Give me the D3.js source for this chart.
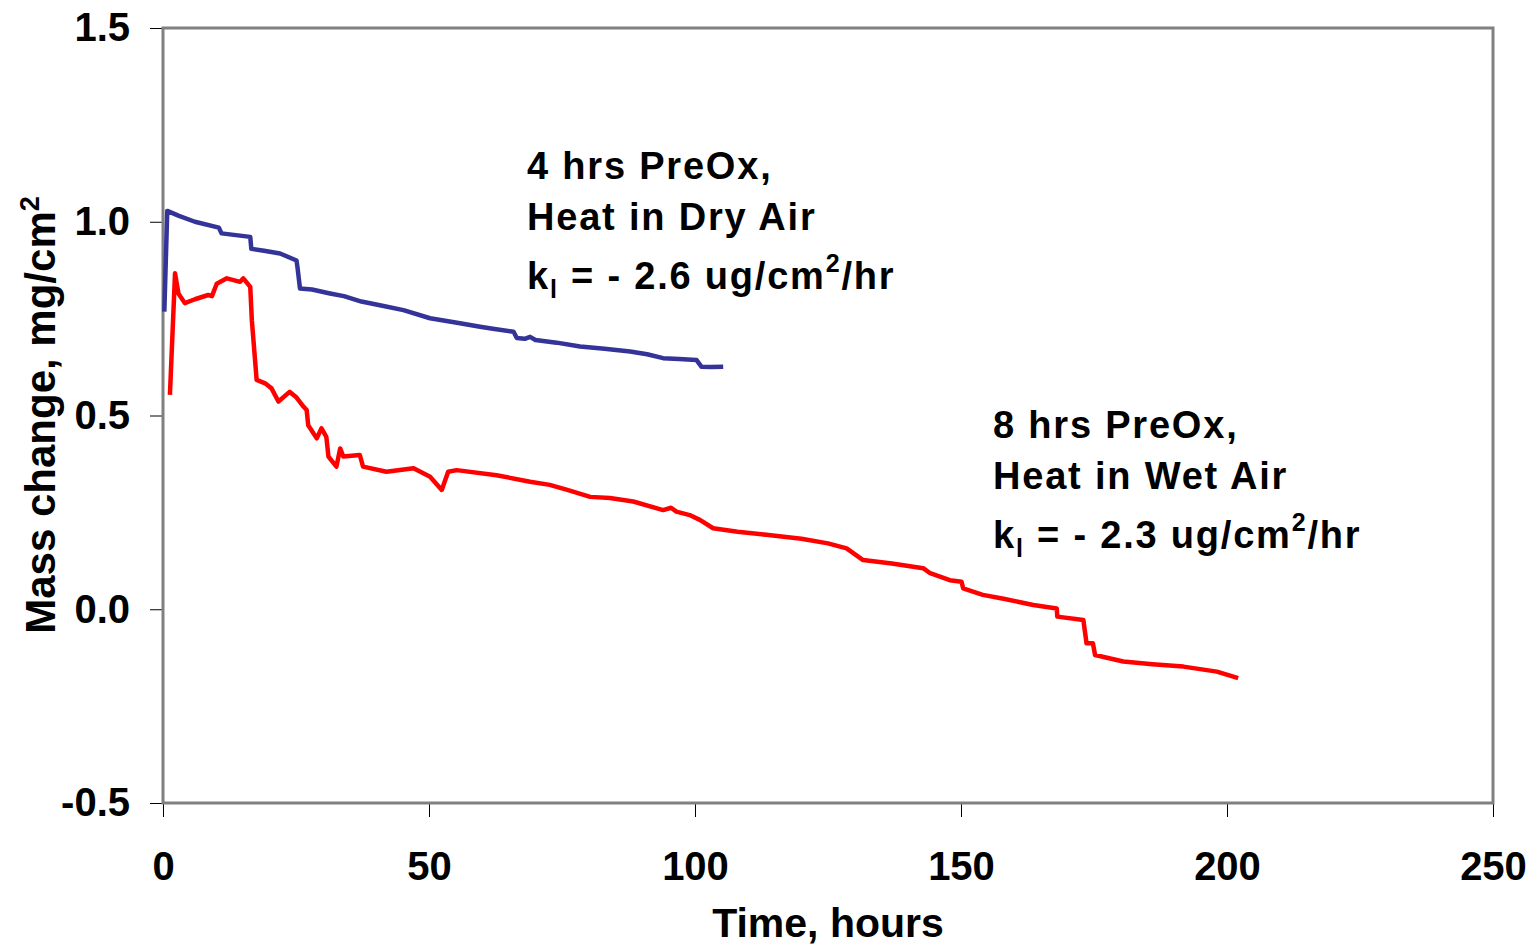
<html>
<head>
  <meta charset="utf-8">
  <title></title>
</head>
<body style="margin:0">
<div id='graph-container'></div>
</body>
<script src="https://d3js.org/d3.v7.min.js"></script>
<script type="text/javascript">

// 4 hrs PreOx, heated in dry air
var dryHours = [0.25, 0.8, 3, 6, 10.5, 11, 16.4, 16.6, 19, 22, 25.1, 25.3, 25.75, 28, 31.4, 34, 37.3, 41, 45.2, 50.2, 55, 59.6, 62, 65.9, 66.5, 68, 69, 70, 74, 78.4, 83, 87.8, 91, 94, 97, 100.3, 101.2, 103, 105.3]
var dryMass  = [0.768, 1.028, 1.015, 1.000, 0.985, 0.970, 0.961, 0.930, 0.925, 0.918, 0.900, 0.880, 0.828, 0.825, 0.815, 0.808, 0.794, 0.784, 0.772, 0.751, 0.740, 0.729, 0.724, 0.716, 0.700, 0.698, 0.703, 0.695, 0.688, 0.678, 0.672, 0.665, 0.658, 0.648, 0.646, 0.643, 0.626, 0.625, 0.626]

// 8 hrs PreOx, heated in wet air
var wetHours = [1.3, 2.26, 2.9, 4.1, 6.0, 8.5, 9.2, 10.1, 12, 14.5, 15.1, 16.4, 16.7, 17.6, 19.2, 20.4, 21.7, 23.8, 25, 26.4, 27.0, 27.3, 28.9, 29.8, 30.7, 31.1, 32.6, 33.3, 33.9, 37, 37.6, 42, 47.1, 50.2, 52.4, 53.6, 55.2, 62.7, 69, 72.7, 76, 80.3, 84, 88.4, 94, 95.5, 96.5, 99, 101, 103.4, 108, 113.4, 120, 125, 128.5, 131.6, 137, 142.9, 144.2, 147.9, 150.1, 150.4, 154.1, 158, 163.6, 168, 168.1, 173, 173.6, 174.8, 175.2, 180.5, 186, 191.8, 198.1, 202.1]
var wetMass  = [0.553, 0.867, 0.815, 0.790, 0.800, 0.811, 0.808, 0.840, 0.854, 0.845, 0.854, 0.832, 0.746, 0.592, 0.583, 0.570, 0.536, 0.561, 0.548, 0.523, 0.514, 0.475, 0.441, 0.467, 0.445, 0.394, 0.368, 0.415, 0.394, 0.398, 0.368, 0.355, 0.364, 0.342, 0.308, 0.355, 0.359, 0.346, 0.329, 0.321, 0.308, 0.290, 0.287, 0.278, 0.256, 0.262, 0.252, 0.243, 0.230, 0.209, 0.200, 0.192, 0.182, 0.170, 0.157, 0.127, 0.118, 0.106, 0.093, 0.075, 0.071, 0.054, 0.037, 0.027, 0.011, 0.002, -0.019, -0.028, -0.088, -0.088, -0.118, -0.135, -0.142, -0.148, -0.161, -0.178]

var xTicks = [0, 50, 100, 150, 200, 250]
var yTicks = [-0.5, 0.0, 0.5, 1.0, 1.5]

var font = '"Liberation Sans", Arial, sans-serif'
var width = 1537
var height = 947

var xScale = d3.scaleLinear().domain([0, 250]).range([163, 1493])
var yScale = d3.scaleLinear().domain([-0.5, 1.5]).range([803, 28])

var svg = d3.select("#graph-container").append("svg")
  .attr("width", width)
  .attr("height", height)
  .style("font-family", font)
  .style("font-weight", "bold")

svg.append("rect").attr("width", width).attr("height", height).attr("fill", "white")

// y axis
var yAxis = svg.append("g")
  .attr("transform", `translate(${xScale(0)},0)`)
  .call(d3.axisLeft(yScale).tickValues(yTicks).tickSize(13).tickPadding(20).tickFormat(d => d.toFixed(1)))
yAxis.select(".domain").remove()
yAxis.selectAll("line").attr("stroke", "black").attr("stroke-width", 1)
yAxis.selectAll("text").attr("font-size", 40).attr("font-family", font).attr("font-weight", "bold").attr("fill", "black")

// x axis
var xAxis = svg.append("g")
  .attr("transform", `translate(0,${yScale(-0.5)})`)
  .call(d3.axisBottom(xScale).tickValues(xTicks).tickSize(14).tickPadding(35))
xAxis.select(".domain").remove()
xAxis.selectAll("line").attr("stroke", "black").attr("stroke-width", 1)
xAxis.selectAll("text").attr("font-size", 40).attr("font-family", font).attr("font-weight", "bold").attr("fill", "black")

// plot frame
svg.append("rect")
  .attr("x", xScale(0))
  .attr("y", yScale(1.5))
  .attr("width", xScale(250) - xScale(0))
  .attr("height", yScale(-0.5) - yScale(1.5))
  .attr("fill", "none")
  .attr("stroke", "#808080")
  .attr("stroke-width", 3)

var line = d3.line().x(d => xScale(d[0])).y(d => yScale(d[1]))

svg.append("path")
  .datum(d3.zip(dryHours, dryMass))
  .attr("d", line)
  .attr("fill", "none")
  .attr("stroke", "#333399")
  .attr("stroke-width", 4.5)
  .attr("stroke-linejoin", "round")

svg.append("path")
  .datum(d3.zip(wetHours, wetMass))
  .attr("d", line)
  .attr("fill", "none")
  .attr("stroke", "#ff0000")
  .attr("stroke-width", 4.5)
  .attr("stroke-linejoin", "round")

// axis titles
svg.append("text")
  .attr("x", 828)
  .attr("y", 937)
  .attr("text-anchor", "middle")
  .attr("font-size", 41)
  .text("Time, hours")

var yTitle = svg.append("text")
  .attr("transform", "translate(55,415) rotate(-90)")
  .attr("text-anchor", "middle")
  .attr("font-size", 42)
yTitle.append("tspan").text("Mass change, mg/cm")
yTitle.append("tspan").attr("font-size", 27).attr("dy", -16).text("2")

// annotations
function annotate(x, y, lines, k){
  var g = svg.append("g").attr("font-size", 38).attr("letter-spacing", 1.8)
  g.append("text").attr("x", x).attr("y", y).text(lines[0])
  g.append("text").attr("x", x).attr("y", y + 51).text(lines[1])
  var t = g.append("text").attr("x", x).attr("y", y + 110)
  t.append("tspan").text("k")
  t.append("tspan").attr("font-size", 25).attr("dy", 9).text("l")
  t.append("tspan").attr("dy", -9).text(" = - " + k + " ug/cm")
  t.append("tspan").attr("font-size", 25).attr("dy", -17).text("2")
  t.append("tspan").attr("dy", 17).text("/hr")
}
annotate(527, 179, ["4 hrs PreOx,", "Heat in Dry Air"], "2.6")
annotate(993, 438, ["8 hrs PreOx,", "Heat in Wet Air"], "2.3")

</script>
</html>
